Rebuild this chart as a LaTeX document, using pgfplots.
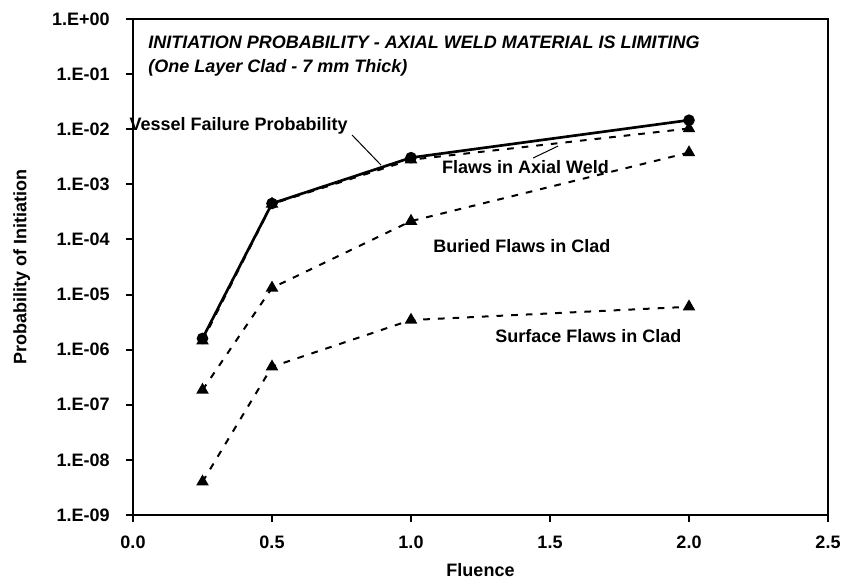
\documentclass[border=0pt]{standalone}
\usepackage{fontspec}
\setmainfont{Liberation Sans}
\usepackage{pgfplots}
\pgfplotsset{compat=1.18}

\newcommand{\lbl}{\fontsize{13.5}{16}\selectfont\bfseries}

\begin{document}
\begin{tikzpicture}
\useasboundingbox (-99.75pt,-52.5pt) rectangle (531pt,386.25pt);
\begin{axis}[
    scale only axis,
    width=521.25pt,
    height=372pt,
    xmin=0, xmax=2.5,
    ymode=log, ymin=1e-9, ymax=1,
    axis line style={line width=2pt},
    tick pos=left,
    tick align=outside,
    major tick length=5.25pt,
    tick style={line width=1.5pt, black},
    xtick={0,0.5,1,1.5,2,2.5},
    xticklabels={0.0,0.5,1.0,1.5,2.0,2.5},
    ytick={1e-9,1e-8,1e-7,1e-6,1e-5,1e-4,1e-3,1e-2,1e-1,1},
    yticklabels={1.E-09,1.E-08,1.E-07,1.E-06,1.E-05,1.E-04,1.E-03,1.E-02,1.E-01,1.E+00},
    yminorticks=false,
    tick label style={font=\lbl},
    xticklabel style={yshift=-7pt},
    yticklabel style={anchor=east, inner sep=0pt, xshift=-12pt},
    xlabel={Fluence},
    ylabel={Probability of Initiation},
    label style={font=\lbl},
    xlabel style={at={(axis description cs:0.5,-0.111)}, anchor=center},
    ylabel style={at={(axis description cs:-0.16,0.5)}, anchor=center},
    clip=false,
]
% dashed series (triangles)
\addplot[black, line width=1.5pt, dash pattern=on 5pt off 6pt,
    mark=triangle*, mark size=4pt, mark options={solid}]
    coordinates {(0.25,1.45e-6) (0.5,4.4e-4) (1,2.8e-3) (2,1.03e-2)};
\addplot[black, line width=1.5pt, dash pattern=on 5pt off 6pt,
    mark=triangle*, mark size=4pt, mark options={solid}]
    coordinates {(0.25,1.85e-7) (0.5,1.32e-5) (1,2.15e-4) (2,3.77e-3)};
\addplot[black, line width=1.5pt, dash pattern=on 5pt off 6pt,
    mark=triangle*, mark size=4pt, mark options={solid}]
    coordinates {(0.25,4e-9) (0.5,4.9e-7) (1,3.45e-6) (2,6e-6)};
% vessel failure (solid, circles)
\addplot[black, line width=2pt, mark=*, mark size=3.3pt]
    coordinates {(0.25,1.6e-6) (0.5,4.5e-4) (1,3.05e-3) (2,1.46e-2)};

\node[font=\lbl\itshape, anchor=west, inner sep=0] at (rel axis cs:0.0216,0.954)
    {INITIATION PROBABILITY - AXIAL WELD MATERIAL IS LIMITING};
\node[font=\lbl\itshape, anchor=west, inner sep=0] at (rel axis cs:0.0216,0.901)
    {(One Layer Clad - 7 mm Thick)};

\node[font=\lbl, anchor=east, inner sep=0] at (axis cs:0.773,1.15e-2) {Vessel Failure Probability};
\draw[line width=0.75pt] (axis cs:0.788,7.85e-3) -- (axis cs:0.892,2.24e-3);
\node[font=\lbl, inner sep=0] at (axis cs:1.412,2.06e-3) {Flaws in Axial Weld};
\draw[line width=0.75pt] (axis cs:1.439,3.0e-3) -- (axis cs:1.529,4.95e-3);
\node[font=\lbl, inner sep=0] at (axis cs:1.399,7.6e-5) {Buried Flaws in Clad};
\node[font=\lbl, inner sep=0] at (axis cs:1.638,1.77e-6) {Surface Flaws in Clad};
\end{axis}
\end{tikzpicture}
\end{document}
